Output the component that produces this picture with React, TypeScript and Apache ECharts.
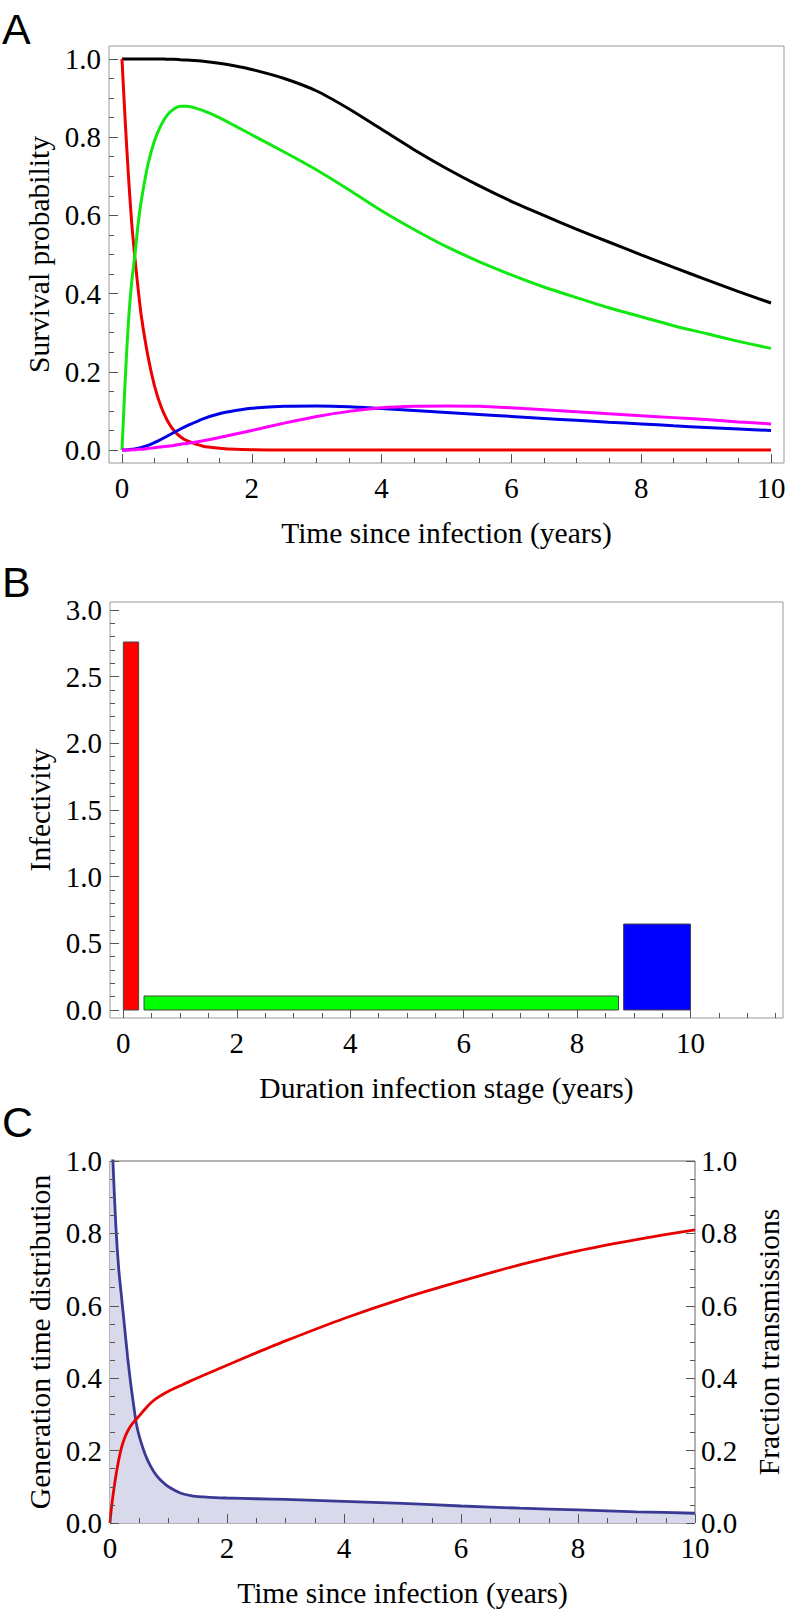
import React, { useEffect, useRef } from "react";
import * as echarts from "echarts";

// ---------- Panel A: survival probabilities ----------
const timeA = [0, 0.05, 0.1, 0.15, 0.2, 0.25, 0.3, 0.4, 0.5, 0.6, 0.7, 0.8, 0.9, 1, 1.25, 1.5, 1.75, 2, 2.5, 3, 3.5, 4, 4.5, 5, 5.5, 6, 6.5, 7, 7.5, 8, 8.5, 9, 9.5, 10];
const survivalTotal = [1, 1, 1, 1, 1, 1, 1, 1, 1, 1, 0.999, 0.999, 0.998, 0.997, 0.994, 0.989, 0.982, 0.973, 0.95, 0.918, 0.872, 0.82, 0.768, 0.72, 0.676, 0.636, 0.6, 0.565, 0.532, 0.499, 0.467, 0.436, 0.405, 0.376];
const stageAcute = [1, 0.84, 0.7, 0.58, 0.49, 0.41, 0.34, 0.24, 0.165, 0.112, 0.075, 0.05, 0.034, 0.024, 0.01, 0.005, 0.002, 0.001, 0, 0, 0, 0, 0, 0, 0, 0, 0, 0, 0, 0, 0, 0, 0, 0];
const stageChronic = [0, 0.18, 0.33, 0.43, 0.5, 0.58, 0.64, 0.73, 0.79, 0.83, 0.857, 0.872, 0.879, 0.879, 0.868, 0.85, 0.828, 0.806, 0.762, 0.716, 0.665, 0.612, 0.564, 0.52, 0.482, 0.448, 0.417, 0.39, 0.364, 0.341, 0.318, 0.298, 0.278, 0.26];
const stagePreAids = [0, 0, 0.001, 0.002, 0.003, 0.005, 0.007, 0.012, 0.019, 0.027, 0.036, 0.045, 0.054, 0.062, 0.08, 0.093, 0.101, 0.107, 0.112, 0.113, 0.111, 0.106, 0.101, 0.096, 0.091, 0.086, 0.081, 0.076, 0.071, 0.067, 0.062, 0.058, 0.054, 0.05];
const stageAids = [0, 0, 0, 0.001, 0.001, 0.002, 0.002, 0.004, 0.006, 0.008, 0.01, 0.012, 0.015, 0.017, 0.024, 0.032, 0.041, 0.05, 0.069, 0.086, 0.099, 0.108, 0.112, 0.113, 0.112, 0.108, 0.103, 0.098, 0.093, 0.088, 0.083, 0.078, 0.072, 0.067];

// ---------- Panel B: infectivity per stage ----------
const stageStart = [0, 0.365, 8.82];
const stageEnd = [0.27, 8.73, 10];
const stageInfectivity = [2.76, 0.105, 0.645];
const stageColors = ["#ff0000", "#00ff00", "#0000ff"];

// ---------- Panel C: generation time ----------
const timeC = [0, 0.02, 0.05, 0.1, 0.15, 0.2, 0.25, 0.3, 0.35, 0.4, 0.45, 0.5, 0.6, 0.7, 0.8, 0.9, 1, 1.2, 1.4, 1.6, 1.8, 2, 2.5, 3, 4, 5, 6, 7, 8, 9, 10];
const generationDist = [1.3, 1.15, 1.0, 0.82, 0.7, 0.62, 0.54, 0.46, 0.39, 0.33, 0.275, 0.24, 0.19, 0.155, 0.13, 0.113, 0.1, 0.083, 0.075, 0.072, 0.07, 0.069, 0.067, 0.065, 0.06, 0.054, 0.047, 0.041, 0.036, 0.031, 0.027];
const fractionTransmissions = [0, 0.035, 0.075, 0.13, 0.175, 0.21, 0.235, 0.253, 0.267, 0.278, 0.287, 0.296, 0.315, 0.332, 0.345, 0.355, 0.364, 0.379, 0.394, 0.408, 0.422, 0.436, 0.47, 0.503, 0.565, 0.62, 0.668, 0.713, 0.752, 0.783, 0.81];

// ---------- tick labels ----------
const labelsA_x = [0, 2, 4, 6, 8, 10];
const labelsA_y = [0, 0.2, 0.4, 0.6, 0.8, 1.0];
const labelsB_x = [0, 2, 4, 6, 8, 10];
const labelsB_y = [0, 0.5, 1.0, 1.5, 2.0, 2.5, 3.0];
const labelsC_x = [0, 2, 4, 6, 8, 10];
const labelsC_y = [0, 0.2, 0.4, 0.6, 0.8, 1.0];

const steps = (a: number, b: number, s: number) => {
  const out: number[] = [];
  for (let i = 0; a + i * s <= b + 1e-9; i++) out.push(+(a + i * s).toFixed(4));
  return out;
};

const SERIF = "Liberation Serif";
const SANS = "Liberation Sans";
const TICK = "#555";
const LFS = 29; // tick label font size
const TFS = 29.5; // axis title font size

function majorAxis(gridIndex: number, min: number, max: number, labels: number[], fmt: (v: number) => string, position: string, margin: number, extra: any = {}) {
  return {
    type: "value",
    gridIndex,
    min,
    max,
    position,
    z: 5,
    splitLine: { show: false },
    axisLine: { show: false, onZero: false },
    axisTick: { show: true, inside: true, length: 9, customValues: labels, lineStyle: { color: TICK, width: 1 } },
    axisLabel: { show: true, customValues: labels, formatter: (v: number) => fmt(v), margin, fontFamily: SERIF, fontSize: LFS, color: "#000" },
    nameLocation: "middle",
    nameTextStyle: { fontFamily: SERIF, fontSize: TFS, color: "#000" },
    ...extra,
  };
}

function minorAxis(gridIndex: number, min: number, max: number, ticks: number[], position: string) {
  return {
    type: "value",
    gridIndex,
    min,
    max,
    position,
    z: 5,
    splitLine: { show: false },
    axisLine: { show: false, onZero: false },
    axisLabel: { show: false },
    axisTick: { show: true, inside: true, length: 5, customValues: ticks, lineStyle: { color: TICK, width: 1 } },
  };
}

const f1 = (v: number) => v.toFixed(1);
const f0 = (v: number) => String(Math.round(v));

const letter = (text: string, y: number) => ({
  type: "text",
  x: 2,
  y,
  style: { text, fontSize: 43, fontFamily: SANS, fill: "#000", align: "left", verticalAlign: "middle" },
});

export default function App() {
  const ref = useRef<HTMLDivElement>(null);
  useEffect(() => {
    if (!ref.current) return;
    const chart = echarts.init(ref.current, null, { renderer: "svg" });
    const lineA = (name: string, data: number[], color: string) => ({
      name,
      type: "line",
      xAxisIndex: 0,
      yAxisIndex: 0,
      data: timeA.map((t, i) => [t, data[i]]),
      showSymbol: false,
      symbol: "none",
      smooth: 0.25,
      lineStyle: { color, width: 3 },
      z: 3,
    });
    chart.setOption({
      animation: false,
      backgroundColor: "#fff",
      grid: [
        { left: 109, top: 46, width: 675, height: 417, show: true, borderColor: "#999", borderWidth: 1, backgroundColor: "transparent" },
        { left: 110, top: 602, width: 673, height: 416, show: true, borderColor: "#999", borderWidth: 1, backgroundColor: "transparent" },
        { left: 110, top: 1161, width: 586, height: 362, show: true, borderColor: "#666", borderWidth: 1, backgroundColor: "transparent" },
      ],
      xAxis: [
        majorAxis(0, -0.2, 10.2, labelsA_x, f0, "bottom", 10, { name: "Time since infection (years)", nameGap: 55 }),
        minorAxis(0, -0.2, 10.2, steps(0, 10, 0.5), "bottom"),
        majorAxis(1, -0.235, 11.63, labelsB_x, f0, "bottom", 10, { name: "Duration infection stage (years)", nameGap: 55 }),
        minorAxis(1, -0.235, 11.63, steps(0, 11.5, 0.5), "bottom"),
        majorAxis(2, 0, 10, labelsC_x, f0, "bottom", 10, { name: "Time since infection (years)", nameGap: 55 }),
        minorAxis(2, 0, 10, steps(0, 10, 0.5), "bottom"),
      ],
      yAxis: [
        majorAxis(0, -0.033, 1.033, labelsA_y, f1, "left", 8, { name: "Survival probability", nameRotate: 90, nameGap: 53 }),
        minorAxis(0, -0.033, 1.033, steps(0, 1, 0.05), "left"),
        majorAxis(1, -0.06, 3.06, labelsB_y, f1, "left", 8, { name: "Infectivity", nameRotate: 90, nameGap: 53 }),
        minorAxis(1, -0.06, 3.06, steps(0, 3, 0.1), "left"),
        majorAxis(2, 0, 1, labelsC_y, f1, "left", 8, { name: "Generation time distribution", nameRotate: 90, nameGap: 53 }),
        minorAxis(2, 0, 1, steps(0, 1, 0.05), "left"),
        majorAxis(2, 0, 1, labelsC_y, f1, "right", 6, { name: "Fraction transmissions", nameRotate: 90, nameGap: 59 }),
        minorAxis(2, 0, 1, steps(0, 1, 0.05), "right"),
      ],
      graphic: [letter("A", 29), letter("B", 582), letter("C", 1122)],
      series: [
        lineA("total", survivalTotal, "#000000"),
        lineA("acute", stageAcute, "#ee0000"),
        lineA("chronic", stageChronic, "#11e811"),
        lineA("preAIDS", stagePreAids, "#0000e6"),
        lineA("AIDS", stageAids, "#ff00ff"),
        {
          type: "custom",
          xAxisIndex: 2,
          yAxisIndex: 2,
          data: stageStart.map((s, i) => [s, stageEnd[i], stageInfectivity[i], i]),
          encode: { x: [0, 1], y: 2 },
          renderItem: (_params: any, api: any) => {
            const p0 = api.coord([api.value(0), api.value(2)]);
            const p1 = api.coord([api.value(1), 0]);
            return {
              type: "rect",
              shape: { x: p0[0], y: p0[1], width: p1[0] - p0[0], height: p1[1] - p0[1] },
              style: { fill: stageColors[api.value(3)], stroke: "#444", lineWidth: 1 },
            };
          },
          z: 3,
        },
        {
          type: "line",
          xAxisIndex: 4,
          yAxisIndex: 4,
          data: timeC.map((t, i) => [t, generationDist[i]]),
          showSymbol: false,
          symbol: "none",
          smooth: 0.25,
          clip: true,
          lineStyle: { color: "#3a3a94", width: 2.8 },
          areaStyle: { color: "#d9d9ec", opacity: 1 },
          z: 2,
        },
        {
          type: "line",
          xAxisIndex: 4,
          yAxisIndex: 6,
          data: timeC.map((t, i) => [t, fractionTransmissions[i]]),
          showSymbol: false,
          symbol: "none",
          smooth: 0.25,
          clip: true,
          lineStyle: { color: "#e80000", width: 2.8 },
          z: 3,
        },
      ],
    });
    return () => chart.dispose();
  }, []);
  return <div ref={ref} style={{ position: "absolute", left: 0, top: 0, width: 792, height: 1612, background: "#fff" }} />;
}
